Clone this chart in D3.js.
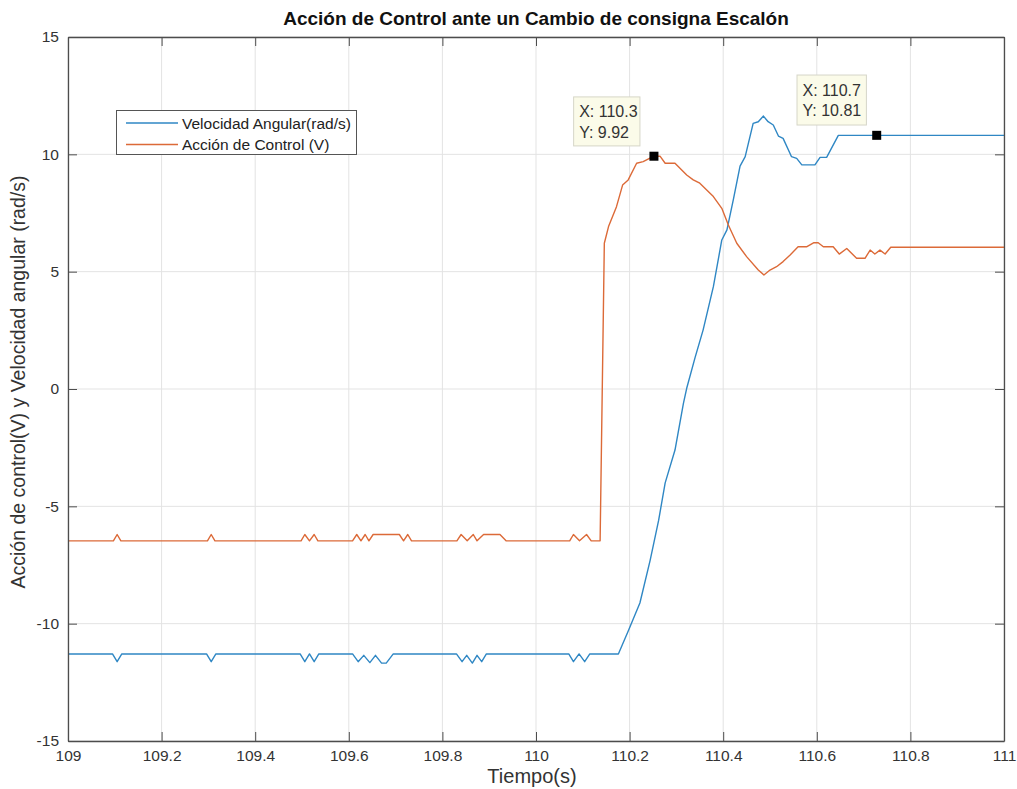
<!DOCTYPE html>
<html>
<head>
<meta charset="utf-8">
<script src="https://cdn.jsdelivr.net/npm/d3@7/dist/d3.min.js"></script>
<style>
  html, body { margin: 0; padding: 0; background: #ffffff; }
  svg { display: block; font-family: "Liberation Sans", Arial, Helvetica, sans-serif; }
</style>
</head>
<body>
<svg id="chart" width="1017" height="789"></svg>
<script>
// Step response: motor angular velocity and control action over time
const velTime = [109.00, 109.095, 109.105, 109.115, 109.296, 109.306, 109.316, 109.496, 109.506, 109.516,
  109.526, 109.536, 109.608, 109.62, 109.632, 109.645, 109.657, 109.67, 109.68, 109.695,
  109.83, 109.842, 109.852, 109.864, 109.874, 109.884, 109.894, 110.07, 110.08, 110.092,
  110.104, 110.115, 110.176, 110.198, 110.222, 110.244, 110.262, 110.276, 110.297, 110.315,
  110.322, 110.34, 110.357, 110.379, 110.397, 110.408, 110.422, 110.436, 110.447, 110.464,
  110.475, 110.486, 110.496, 110.507, 110.518, 110.528, 110.546, 110.557, 110.568, 110.596,
  110.607, 110.621, 110.646, 110.728, 111.00];
const velValues = [-11.29, -11.29, -11.62, -11.29, -11.29, -11.62, -11.29, -11.29, -11.62, -11.29,
  -11.62, -11.29, -11.29, -11.62, -11.35, -11.66, -11.35, -11.68, -11.68, -11.29,
  -11.29, -11.62, -11.35, -11.68, -11.35, -11.62, -11.29, -11.29, -11.62, -11.29,
  -11.62, -11.29, -11.29, -10.27, -9.12, -7.29, -5.6, -4.0, -2.6, -0.61,
  0.03, 1.35, 2.51, 4.36, 6.35, 6.78, 8.1, 9.5, 9.9, 11.32,
  11.39, 11.63, 11.39, 11.25, 10.78, 10.68, 9.9, 9.83, 9.55, 9.55,
  9.87, 9.87, 10.81, 10.81, 10.81];

const ctrlTime = [109.00, 109.097, 109.105, 109.113, 109.298, 109.306, 109.314, 109.498, 109.506, 109.516,
  109.526, 109.534, 109.608, 109.617, 109.626, 109.635, 109.643, 109.652, 109.708, 109.717,
  109.726, 109.734, 109.831, 109.840, 109.853, 109.866, 109.874, 109.888, 109.923, 109.936,
  110.072, 110.08, 110.093, 110.108, 110.118, 110.137, 110.146, 110.155, 110.172, 110.185,
  110.197, 110.215, 110.229, 110.252, 110.265, 110.276, 110.297, 110.322, 110.336, 110.35,
  110.379, 110.397, 110.411, 110.429, 110.45, 110.475, 110.487, 110.5, 110.514, 110.528,
  110.543, 110.56, 110.578, 110.593, 110.603, 110.614, 110.635, 110.648, 110.664, 110.678,
  110.685, 110.703, 110.714, 110.724, 110.735, 110.746, 110.758, 111.00];
const ctrlValues = [-6.47, -6.47, -6.2, -6.47, -6.47, -6.2, -6.47, -6.47, -6.2, -6.47,
  -6.2, -6.47, -6.47, -6.2, -6.47, -6.2, -6.47, -6.2, -6.2, -6.47,
  -6.2, -6.47, -6.47, -6.2, -6.47, -6.2, -6.47, -6.2, -6.2, -6.47,
  -6.47, -6.2, -6.47, -6.2, -6.47, -6.47, 6.21, 6.92, 7.77, 8.69,
  8.91, 9.62, 9.69, 9.92, 9.92, 9.62, 9.62, 9.12, 8.91, 8.77,
  8.2, 7.7, 6.99, 6.21, 5.64, 5.07, 4.86, 5.07, 5.21, 5.43,
  5.71, 6.06, 6.06, 6.23, 6.23, 6.06, 6.06, 5.75, 5.99, 5.71,
  5.57, 5.57, 5.92, 5.75, 5.92, 5.75, 6.04, 6.04];

const xTicks = [109, 109.2, 109.4, 109.6, 109.8, 110, 110.2, 110.4, 110.6, 110.8, 111];
const yTicks = [-15, -10, -5, 0, 5, 10, 15];

// Data tips: [time, value]
const tipTime = [110.252, 110.728];
const tipValue = [9.92, 10.81];

const seriesNames = ["Velocidad Angular(rad/s)", "Acción de Control (V)"];
const seriesColors = ["#2f87c4", "#dc6a38"];

const titleText = "Acción de Control ante un Cambio de consigna Escalón";
const xLabelText = "Tiempo(s)";
const yLabelText = "Acción de control(V) y Velocidad angular (rad/s)";

const svg = d3.select("#chart");
const plotLeft = 68, plotRight = 1004, plotTop = 37, plotBottom = 741;

const x = d3.scaleLinear().domain([109, 111]).range([plotLeft, plotRight]);
const y = d3.scaleLinear().domain([-15, 15]).range([plotBottom, plotTop]);

// Grid
const grid = svg.append("g");
grid.selectAll(".gx").data(xTicks).join("line")
  .attr("x1", d => x(d)).attr("x2", d => x(d))
  .attr("y1", plotTop).attr("y2", plotBottom)
  .attr("stroke", "#e3e3e3").attr("stroke-width", 1);
grid.selectAll(".gy").data(yTicks).join("line")
  .attr("x1", plotLeft).attr("x2", plotRight)
  .attr("y1", d => y(d)).attr("y2", d => y(d))
  .attr("stroke", "#e3e3e3").attr("stroke-width", 1);

// Lines
svg.append("clipPath").attr("id", "plotclip")
  .append("rect").attr("x", plotLeft).attr("y", plotTop)
  .attr("width", plotRight - plotLeft).attr("height", plotBottom - plotTop);

const line = d3.line().x(d => x(d[0])).y(d => y(d[1]));
const velData = velTime.map((t, i) => [t, velValues[i]]);
const ctrlData = ctrlTime.map((t, i) => [t, ctrlValues[i]]);

const lines = svg.append("g").attr("clip-path", "url(#plotclip)");
lines.append("path").datum(velData).attr("d", line)
  .attr("fill", "none").attr("stroke", seriesColors[0]).attr("stroke-width", 1.4)
  .attr("stroke-linejoin", "round");
lines.append("path").datum(ctrlData).attr("d", line)
  .attr("fill", "none").attr("stroke", seriesColors[1]).attr("stroke-width", 1.4)
  .attr("stroke-linejoin", "round");

// Axes (ticks inward on all four sides)
const axisColor = "#4d4d4d";
const tickLen = 9;
const fmt = d => String(d);

const xAxisB = svg.append("g").attr("transform", `translate(0,${plotBottom})`)
  .call(d3.axisBottom(x).tickValues(xTicks).tickSizeInner(-tickLen).tickSizeOuter(0).tickPadding(9).tickFormat(fmt));
const xAxisT = svg.append("g").attr("transform", `translate(0,${plotTop})`)
  .call(d3.axisTop(x).tickValues(xTicks).tickSizeInner(-tickLen).tickSizeOuter(0).tickFormat(""));
const yAxisL = svg.append("g").attr("transform", `translate(${plotLeft},0)`)
  .call(d3.axisLeft(y).tickValues(yTicks).tickSizeInner(-tickLen).tickSizeOuter(0).tickPadding(9).tickFormat(fmt));
const yAxisR = svg.append("g").attr("transform", `translate(${plotRight},0)`)
  .call(d3.axisRight(y).tickValues(yTicks).tickSizeInner(-tickLen).tickSizeOuter(0).tickFormat(""));

[xAxisB, xAxisT, yAxisL, yAxisR].forEach(a => {
  a.select(".domain").attr("stroke", axisColor).attr("stroke-width", 1.3);
  a.selectAll(".tick line").attr("stroke", axisColor).attr("stroke-width", 1);
  a.selectAll(".tick text").attr("fill", "#333").attr("font-size", 15.5)
    .attr("font-family", "'Liberation Sans', Arial, sans-serif");
});

// Title and axis labels
svg.append("text").attr("x", (plotLeft + plotRight) / 2).attr("y", 25)
  .attr("text-anchor", "middle").attr("font-size", 19).attr("font-weight", "bold")
  .attr("fill", "#111").text(titleText);
svg.append("text").attr("x", (plotLeft + plotRight) / 2 - 4).attr("y", 783)
  .attr("text-anchor", "middle").attr("font-size", 20).attr("fill", "#333").text(xLabelText);
svg.append("text")
  .attr("transform", `translate(25,${(plotTop + plotBottom) / 2 - 7}) rotate(-90)`)
  .attr("text-anchor", "middle").attr("font-size", 19.5).attr("fill", "#333").text(yLabelText);

// Legend
const lg = svg.append("g");
lg.append("rect").attr("x", 116.5).attr("y", 110.5).attr("width", 240).attr("height", 44)
  .attr("fill", "#fff").attr("stroke", "#555").attr("stroke-width", 1);
seriesNames.forEach((name, i) => {
  const ly = 123 + i * 21.5;
  lg.append("line").attr("x1", 126).attr("x2", 178).attr("y1", ly).attr("y2", ly)
    .attr("stroke", seriesColors[i]).attr("stroke-width", 1.4);
  lg.append("text").attr("x", 182).attr("y", ly + 5.5).attr("font-size", 15.5)
    .attr("fill", "#222").text(name);
});

// Data tips
const tipFmt = d3.format(".4");
const tipBoxes = [
  { dx: -80.3, dy: -59.3, w: 66.3, h: 49 },
  { dx: -79.7, dy: -60.3, w: 69.4, h: 50 }
];
tipTime.forEach((t, i) => {
  const px = x(t), py = y(tipValue[i]);
  const b = tipBoxes[i];
  const g = svg.append("g");
  g.append("rect").attr("x", px + b.dx).attr("y", py + b.dy).attr("width", b.w).attr("height", b.h)
    .attr("fill", "#fbfbe9").attr("stroke", "#d6d6c8").attr("stroke-width", 1);
  g.append("text").attr("x", px + b.dx + 5.5).attr("y", py + b.dy + 20.5)
    .attr("font-size", 16).attr("fill", "#333").text("X: " + tipFmt(t));
  g.append("text").attr("x", px + b.dx + 5.5).attr("y", py + b.dy + 41)
    .attr("font-size", 16).attr("fill", "#333").text("Y: " + tipFmt(tipValue[i]));
  g.append("rect").attr("x", px - 4.5).attr("y", py - 4.5).attr("width", 9).attr("height", 9)
    .attr("fill", "#000");
});
</script>
</body>
</html>
